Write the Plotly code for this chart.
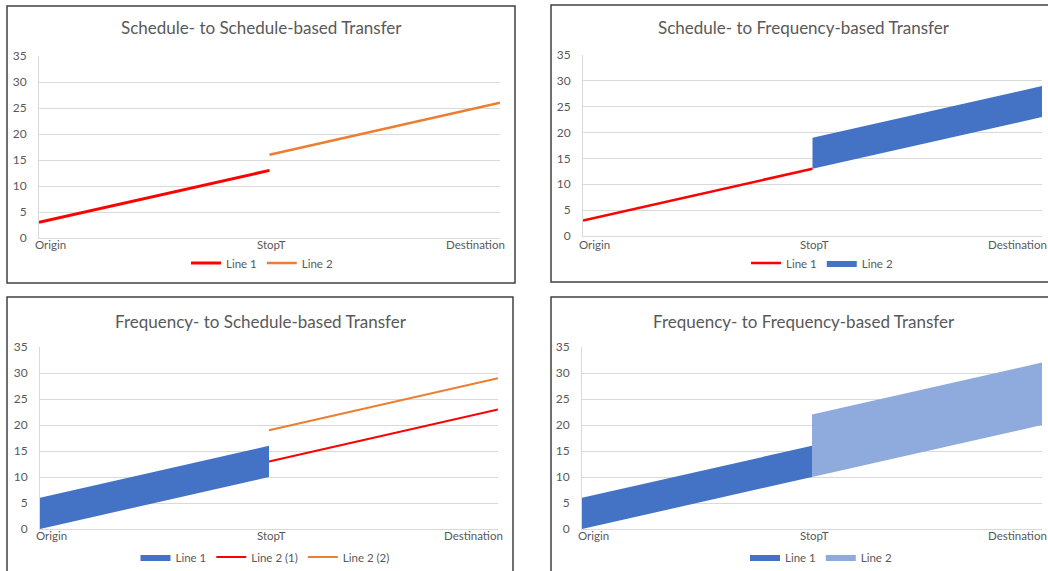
import plotly.graph_objects as go

W, H = 1048, 571

categories = ["Origin", "StopT", "Destination"]
y_ticks = [0, 5, 10, 15, 20, 25, 30, 35]

titles = [
    "Schedule- to Schedule-based Transfer",
    "Schedule- to Frequency-based Transfer",
    "Frequency- to Schedule-based Transfer",
    "Frequency- to Frequency-based Transfer",
]

# Panel 1
s2s_line1 = [3, 13, None]
s2s_line2 = [None, 16, 26]
# Panel 2
s2f_line1 = [3, 13, None]
s2f_line2_low = [None, 13, 23]
s2f_line2_high = [None, 19, 29]
# Panel 3
f2s_line1_low = [0, 10, None]
f2s_line1_high = [6, 16, None]
f2s_line2_1 = [None, 13, 23]
f2s_line2_2 = [None, 19, 29]
# Panel 4
f2f_line1_low = [0, 10, None]
f2f_line1_high = [6, 16, None]
f2f_line2_low = [None, 10, 20]
f2f_line2_high = [None, 22, 32]

RED = "#FF0000"
ORANGE = "#ED7D31"
BLUE = "#4472C4"
LBLUE = "#8FAADC"
GRID = "#D9D9D9"
TXT = "#595959"
FONT = "Lato"


def band(low, high):
    idx = [i for i in range(len(categories)) if low[i] is not None]
    xs = [categories[i] for i in idx] + [categories[i] for i in reversed(idx)]
    ys = [low[i] for i in idx] + [high[i] for i in reversed(idx)]
    return xs, ys


fig = go.Figure()


def line(y, name, color, width, ax, lg):
    fig.add_trace(go.Scatter(x=categories, y=y, mode="lines", name=name,
                             line=dict(color=color, width=width),
                             xaxis="x" + ax, yaxis="y" + ax, legend=lg,
                             connectgaps=False, hoverinfo="skip"))


def fillband(low, high, name, color, ax, lg):
    xs, ys = band(low, high)
    fig.add_trace(go.Scatter(x=xs, y=ys, mode="lines", name=name, fill="toself",
                             fillcolor=color, line=dict(color=color, width=0),
                             xaxis="x" + ax, yaxis="y" + ax, legend=lg,
                             hoverinfo="skip"))


# panel 1
line(s2s_line1, "Line 1", RED, 3, "", "legend")
line(s2s_line2, "Line 2", ORANGE, 2.5, "", "legend")
# panel 2
line(s2f_line1, "Line 1", RED, 2.5, "2", "legend2")
fillband(s2f_line2_low, s2f_line2_high, "Line 2", BLUE, "2", "legend2")
# panel 3
fillband(f2s_line1_low, f2s_line1_high, "Line 1", BLUE, "3", "legend3")
line(f2s_line2_1, "Line 2 (1)", RED, 2, "3", "legend3")
line(f2s_line2_2, "Line 2 (2)", ORANGE, 2, "3", "legend3")
# panel 4
fillband(f2f_line1_low, f2f_line1_high, "Line 1", BLUE, "4", "legend4")
fillband(f2f_line2_low, f2f_line2_high, "Line 2", LBLUE, "4", "legend4")

# geometry in pixels
panels = [
    dict(ax=(39, 500), ay=(238, 56), box=(7, 6, 515, 283), title=(261, 28), leg=(262, 263), lab=7),
    dict(ax=(583, 1042), ay=(236, 55), box=(551, 5, 1070, 282), title=(804, 28), leg=(822, 263), lab=8),
    dict(ax=(40, 498), ay=(529, 347), box=(7, 297, 513, 590), title=(261, 321), leg=(265, 557), lab=6),
    dict(ax=(582, 1042), ay=(529, 347), box=(551, 297, 1070, 590), title=(804, 321), leg=(821, 557), lab=6),
]

# x tick label placement (Excel-style: end labels kept inside)
lab_anchor = ["left", "center", "right"]
lab_shift = [-6, 2, 7]

layout = dict(width=W, height=H, margin=dict(l=0, r=0, t=0, b=0, autoexpand=False),
              paper_bgcolor="white", plot_bgcolor="white",
              font=dict(family=FONT, color=TXT, size=11), shapes=[], annotations=[])

for i, p in enumerate(panels):
    k = "" if i == 0 else str(i + 1)
    layout["xaxis" + k] = dict(
        domain=[p["ax"][0] / W, p["ax"][1] / W], anchor="y" + k,
        type="category", categoryorder="array", categoryarray=categories,
        range=[0, 2], showgrid=False, zeroline=False, showline=True,
        linecolor=GRID, linewidth=1, ticks="", showticklabels=False,
        automargin=False, fixedrange=True)
    layout["yaxis" + k] = dict(
        domain=[1 - p["ay"][0] / H, 1 - p["ay"][1] / H], anchor="x" + k,
        range=[0, 35], tickvals=y_ticks, showgrid=True, gridcolor=GRID,
        gridwidth=1, zeroline=False, showline=True, linecolor=GRID,
        ticks="", tickfont=dict(size=12, color=TXT), ticklabelstandoff=9,
        automargin=False, fixedrange=True)
    b = p["box"]
    layout["shapes"].append(dict(type="rect", xref="paper", yref="paper",
                                 x0=b[0] / W, x1=b[2] / W, y0=1 - b[1] / H, y1=1 - b[3] / H,
                                 line=dict(color="#404040", width=1.5), layer="below"))
    layout["annotations"].append(dict(text=titles[i], xref="paper", yref="paper",
                                      x=p["title"][0] / W, y=1 - p["title"][1] / H,
                                      xanchor="center", yanchor="middle", showarrow=False,
                                      font=dict(size=17, color=TXT, family=FONT)))
    for j, cat in enumerate(categories):
        layout["annotations"].append(dict(
            text=cat, xref="x" + k, x=cat, yref="paper", y=1 - p["ay"][0] / H,
            xanchor=lab_anchor[j], yanchor="middle", xshift=lab_shift[j], yshift=-p["lab"],
            showarrow=False, font=dict(size=11.5, color=TXT, family=FONT)))
    layout["legend" + k] = dict(orientation="h", xref="paper", yref="paper",
                                x=p["leg"][0] / W, y=1 - p["leg"][1] / H,
                                xanchor="center", yanchor="middle",
                                font=dict(size=11.5, color=TXT), bgcolor="rgba(0,0,0,0)",
                                itemwidth=30, tracegroupgap=0)

fig.update_layout(**layout)
fig.write_html("out.html")
